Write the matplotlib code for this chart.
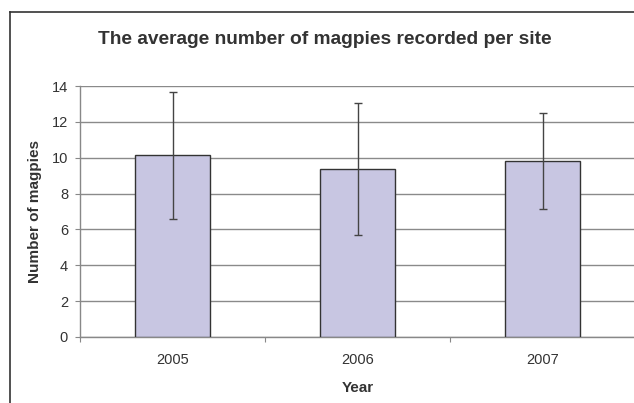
import numpy as np
import matplotlib.pyplot as plt
from matplotlib.lines import Line2D

plt.rcParams['font.family'] = ['Liberation Sans', 'DejaVu Sans']

years = ['2005', '2006', '2007']
mean_magpies = [10.13, 9.37, 9.8]
err_magpies = [3.55, 3.7, 2.67]
yticks = [0, 2, 4, 6, 8, 10, 12, 14]

fig = plt.figure(figsize=(6.34, 4.03), dpi=100)
ax = fig.add_axes([80 / 634, 66 / 403, 555 / 634, 251 / 403])

x = np.arange(len(years))
ax.bar(x, mean_magpies, width=0.405, color='#c8c6e2', edgecolor='#333333',
       linewidth=1.0, zorder=3)
ax.errorbar(x, mean_magpies, yerr=err_magpies, fmt='none', ecolor='#444444',
            elinewidth=1.0, capsize=3, capthick=1.0, zorder=4)

ax.set_xlim(-0.5, 2.5)
ax.set_ylim(0, 14)
ax.set_yticks(yticks)
ax.yaxis.grid(True, color='#8a8a8a', linewidth=1.0, zorder=0)
ax.set_axisbelow(True)

# category boundaries carry tick marks, labels sit in the middle
ax.set_xticks([-0.5, 0.5, 1.5, 2.5])
ax.set_xticklabels([])
ax.set_xticks(x, minor=True)
ax.set_xticklabels(years, minor=True)
ax.tick_params(axis='x', which='minor', length=0, pad=11.5, labelsize=10.5,
               labelcolor='#333333')
ax.tick_params(axis='x', which='major', length=3.6, color='#888888')
ax.tick_params(axis='y', length=3.6, color='#888888', labelsize=10.5,
               labelcolor='#333333', pad=5)

for s in ['top', 'right']:
    ax.spines[s].set_visible(False)
for s in ['left', 'bottom']:
    ax.spines[s].set_color('#888888')
    ax.spines[s].set_linewidth(1.0)

ax.set_xlabel('Year', fontsize=11, fontweight='bold', color='#333333', labelpad=10)
ax.set_ylabel('Number of magpies', fontsize=11, fontweight='bold',
              color='#333333', labelpad=7)

fig.text(325 / 634, 1 - 40 / 403, 'The average number of magpies recorded per site',
         ha='center', va='center', fontsize=13.8, fontweight='bold', color='#333333')

# chart frame (cut off at right and bottom)
fig.add_artist(Line2D([10 / 634, 10 / 634], [0, 1 - 12 / 403],
                      transform=fig.transFigure, color='#333333', linewidth=1.2))
fig.add_artist(Line2D([10 / 634, 1], [1 - 12 / 403, 1 - 12 / 403],
                      transform=fig.transFigure, color='#333333', linewidth=1.2))

fig.savefig('out.png', dpi=100)
